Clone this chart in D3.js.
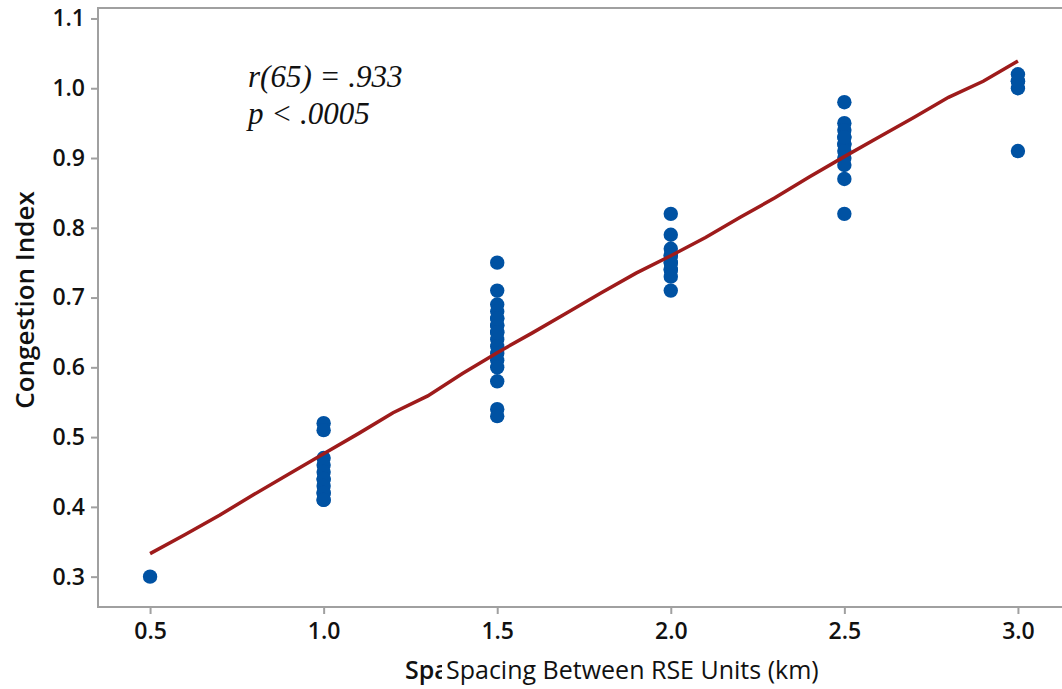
<!DOCTYPE html>
<html>
<head>
<meta charset="utf-8">
<script src="https://cdn.jsdelivr.net/npm/d3@7"></script>
<style>
  body { margin: 0; background: #fff; }
  .tick text { font-family: "Open Sans", "Noto Sans", sans-serif; font-weight: 600; font-size: 23px; fill: #111; }
  .axis-label { font-family: "Open Sans", "Noto Sans", sans-serif; font-size: 25px; fill: #111; }
  .stat { font-family: "Liberation Serif", "Times New Roman", serif; font-style: italic; font-size: 31px; fill: #111; }
</style>
</head>
<body>
<svg width="1062" height="689"></svg>
<script>
// observed congestion index per RSE spacing (km)
const spacing = [
  0.5,
  1.0, 1.0, 1.0, 1.0, 1.0, 1.0, 1.0, 1.0, 1.0, 1.0, 1.0, 1.0,
  1.5, 1.5, 1.5, 1.5, 1.5, 1.5, 1.5, 1.5, 1.5, 1.5, 1.5, 1.5, 1.5, 1.5, 1.5, 1.5, 1.5, 1.5,
  2.0, 2.0, 2.0, 2.0, 2.0, 2.0, 2.0, 2.0, 2.0, 2.0, 2.0,
  2.5, 2.5, 2.5, 2.5, 2.5, 2.5, 2.5, 2.5, 2.5, 2.5, 2.5, 2.5,
  3.0, 3.0, 3.0, 3.0, 3.0
];
const congestion = [
  0.30,
  0.52, 0.51, 0.47, 0.46, 0.45, 0.44, 0.44, 0.43, 0.42, 0.42, 0.41, 0.41,
  0.75, 0.71, 0.69, 0.68, 0.67, 0.66, 0.66, 0.65, 0.64, 0.63, 0.62, 0.61, 0.60, 0.58, 0.54, 0.53, 0.65, 0.67,
  0.82, 0.79, 0.77, 0.76, 0.76, 0.75, 0.74, 0.74, 0.73, 0.71, 0.75,
  0.98, 0.95, 0.94, 0.93, 0.92, 0.92, 0.91, 0.90, 0.89, 0.87, 0.82, 0.93,
  1.02, 1.01, 1.00, 1.01, 0.91
];

// fitted line
const fitX = [0.5, 0.6, 0.7, 0.8, 0.9, 1.0, 1.1, 1.2, 1.3, 1.4, 1.5, 1.6, 1.7, 1.8, 1.9,
              2.0, 2.1, 2.2, 2.3, 2.4, 2.5, 2.6, 2.7, 2.8, 2.9, 3.0];
const fitY = [0.333, 0.360, 0.388, 0.418, 0.447, 0.476, 0.505, 0.535, 0.559, 0.591, 0.621,
              0.649, 0.678, 0.707, 0.735, 0.760, 0.786, 0.815, 0.843, 0.873, 0.902, 0.930,
              0.958, 0.987, 1.010, 1.039];

const xTicks = [0.5, 1.0, 1.5, 2.0, 2.5, 3.0];
const yTicks = [0.3, 0.4, 0.5, 0.6, 0.7, 0.8, 0.9, 1.0, 1.1];
const statLines = ['r(65) = .933', 'p < .0005'];
const xLabel = 'Spacing Between RSE Units (km)';
const yLabel = 'Congestion Index';

const margin = { left: 98, top: 8, right: -8, bottom: 82 };
const svg = d3.select('svg');
const width = +svg.attr('width');
const height = +svg.attr('height');
const innerWidth = width - margin.left - margin.right;
const innerHeight = height - margin.top - margin.bottom;

const g = svg.append('g')
    .attr('transform', `translate(${margin.left},${margin.top})`);

const xScale = d3.scaleLinear().domain([0.35, 3.15]).range([0, innerWidth]);
const yScale = d3.scaleLinear().domain([0.2565, 1.115]).range([innerHeight, 0]);

// frame
g.append('rect')
    .attr('width', innerWidth)
    .attr('height', innerHeight)
    .attr('fill', 'none')
    .attr('stroke', '#a0a0a0')
    .attr('stroke-width', 2);

const xAxis = d3.axisBottom(xScale)
    .tickValues(xTicks)
    .tickFormat(d3.format('.1f'))
    .tickSize(6)
    .tickPadding(9);
const yAxis = d3.axisLeft(yScale)
    .tickValues(yTicks)
    .tickFormat(d3.format('.1f'))
    .tickSize(6)
    .tickPadding(6);

const xAxisG = g.append('g')
    .attr('transform', `translate(0,${innerHeight + 1})`)
    .call(xAxis);
const yAxisG = g.append('g')
    .attr('transform', 'translate(-1,0)')
    .call(yAxis);
[xAxisG, yAxisG].forEach(a => {
  a.select('.domain').remove();
  a.selectAll('.tick line').attr('stroke', '#a0a0a0').attr('stroke-width', 2);
});

// dots
g.selectAll('circle')
    .data(spacing.map((s, i) => ({ s, c: congestion[i] })))
    .join('circle')
    .attr('cx', d => xScale(d.s))
    .attr('cy', d => yScale(d.c))
    .attr('r', 7.2)
    .attr('fill', '#0052a3');

// fit line
const line = d3.line()
    .x((d, i) => xScale(d))
    .y((d, i) => yScale(fitY[i]));
g.append('path')
    .attr('fill', 'none')
    .attr('stroke', '#9e1b1b')
    .attr('stroke-width', 3.5)
    .attr('d', line(fitX));

// statistics
g.selectAll('.stat')
    .data(statLines)
    .join('text')
    .attr('class', 'stat')
    .attr('x', 150)
    .attr('y', (d, i) => 79 + i * 37)
    .text(d => d);

// axis labels (reference shows a bold copy peeking out behind)
svg.append('text')
    .attr('class', 'axis-label')
    .attr('x', 405)
    .attr('y', 679)
    .style('font-weight', 600)
    .text(xLabel);
svg.append('rect')
    .attr('x', 442)
    .attr('y', 650)
    .attr('width', 620)
    .attr('height', 39)
    .attr('fill', '#fff');
svg.append('text')
    .attr('class', 'axis-label')
    .attr('x', 446)
    .attr('y', 679)
    .text(xLabel);

svg.append('text')
    .attr('class', 'axis-label')
    .attr('transform', 'translate(34,300) rotate(-90)')
    .style('text-anchor', 'middle')
    .style('font-weight', 600)
    .style('font-size', '26px')
    .text(yLabel);
</script>
</body>
</html>
